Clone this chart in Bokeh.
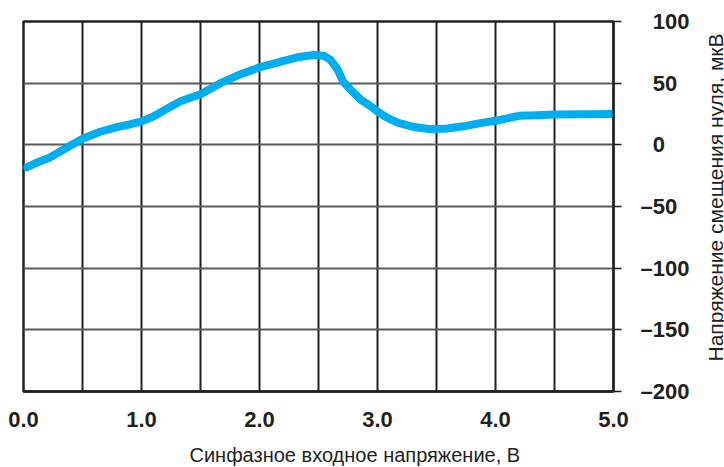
from bokeh.plotting import figure
from bokeh.layouts import row
from bokeh.models import Range1d, FixedTicker, Title
from bokeh.embed import file_html
from bokeh.resources import INLINE

# Input common-mode voltage, V
vin = [0.027, 0.1, 0.225, 0.3, 0.395, 0.505, 0.65, 0.8, 0.9, 1.0, 1.1, 1.2,
       1.33, 1.5, 1.67, 1.84, 2.0, 2.18, 2.32, 2.46, 2.55, 2.6, 2.66, 2.71,
       2.77, 2.86, 2.91, 3.0, 3.08, 3.17, 3.31, 3.45, 3.59, 3.73, 3.87, 4.0,
       4.1, 4.2, 4.35, 4.5, 4.75, 5.0]
# Input offset voltage, uV
vos = [-18.3, -15, -10.2, -6, -0.8, 5.2, 10.6, 14.5, 16.5, 19, 23, 28.5,
       35.4, 41, 50, 57.3, 62.8, 67.4, 71, 72.8, 72, 69, 61.5, 51,
       45, 36.5, 33.5, 27, 22, 18, 14.4, 12.7, 13.3, 15, 17.6, 19.5,
       21.5, 23.5, 24, 24.5, 24.8, 25]

x_ticks = [0.0, 0.5, 1.0, 1.5, 2.0, 2.5, 3.0, 3.5, 4.0, 4.5, 5.0]
x_labels = ["0.0", "", "1.0", "", "2.0", "", "3.0", "", "4.0", "", "5.0"]
y_ticks = [-200, -150, -100, -50, 0, 50, 100]
y_labels = ["\u2013200", "\u2013150", "\u2013100", "\u201350",
            "\u20070", "\u200750", "\u2007100"]

x_title = "Синфазное входное напряжение, В"
y_title = "Напряжение смещения нуля, мкВ"

INK = "#231f20"
CURVE = "#00aeef"
FONT = "Liberation Sans"

p = figure(frame_width=590, frame_height=370,
           x_range=Range1d(0, 5), y_range=Range1d(-200, 100),
           y_axis_location="right",
           output_backend="svg", toolbar_location=None,
           min_border_left=23, min_border_top=21,
           min_border_right=88, min_border_bottom=0)
p.background_fill_color = "white"
p.border_fill_color = "white"
p.outline_line_color = INK
p.outline_line_width = 2.5

# x axis: grid every 0.5 V, labels on whole volts
xa = p.xaxis[0]
xa.ticker = FixedTicker(ticks=x_ticks)
xa.major_label_overrides = dict(zip(x_ticks, x_labels))
xa.axis_line_color = INK
xa.axis_line_width = 2.5
xa.major_tick_out = 0
xa.major_tick_in = 0
xa.minor_tick_out = 0
xa.minor_tick_in = 0
xa.major_label_standoff = 20
xa.major_label_text_font = FONT
xa.major_label_text_font_style = "bold"
xa.major_label_text_font_size = "22px"
xa.major_label_text_color = INK

# y axis on the right
ya = p.yaxis[0]
ya.ticker = FixedTicker(ticks=y_ticks)
ya.major_label_overrides = dict(zip(y_ticks, y_labels))
ya.axis_line_color = INK
ya.axis_line_width = 2
ya.major_tick_out = 8
ya.major_tick_in = 0
ya.major_tick_line_color = INK
ya.major_tick_line_width = 1.5
ya.minor_tick_out = 0
ya.minor_tick_in = 0
ya.major_label_standoff = 19
ya.major_label_text_font = FONT
ya.major_label_text_font_style = "bold"
ya.major_label_text_font_size = "22px"
ya.major_label_text_color = INK

p.xgrid.ticker = FixedTicker(ticks=x_ticks)
p.xgrid.grid_line_color = INK
p.xgrid.grid_line_width = 2
p.ygrid.ticker = FixedTicker(ticks=y_ticks)
p.ygrid.grid_line_color = "#5a5a5a"
p.ygrid.grid_line_width = 1.8

p.add_layout(Title(text=x_title, align="left", offset=166,
                   text_font=FONT, text_font_style="normal",
                   text_font_size="20px", text_color=INK, standoff=24), "below")

p.line(vin, vos, line_width=8, color=CURVE, line_cap="round", line_join="round")

# narrow strip to the right holding the vertical y-axis title (bottom to top);
# same top border as the main plot, shorter frame so the title sits a bit higher
side = figure(frame_width=1, frame_height=352,
              x_axis_location=None, y_axis_location=None,
              output_backend="svg", toolbar_location=None,
              min_border_left=0, min_border_right=0,
              min_border_top=21, min_border_bottom=0)
side.outline_line_color = None
side.grid.visible = False
side.background_fill_color = "white"
side.border_fill_color = "white"
side.add_layout(Title(text=y_title, align="center", standoff=0,
                      text_font=FONT, text_font_style="normal",
                      text_font_size="21px", text_color=INK), "left")

open("out.html", "w").write(file_html(row(p, side, spacing=0), INLINE))
